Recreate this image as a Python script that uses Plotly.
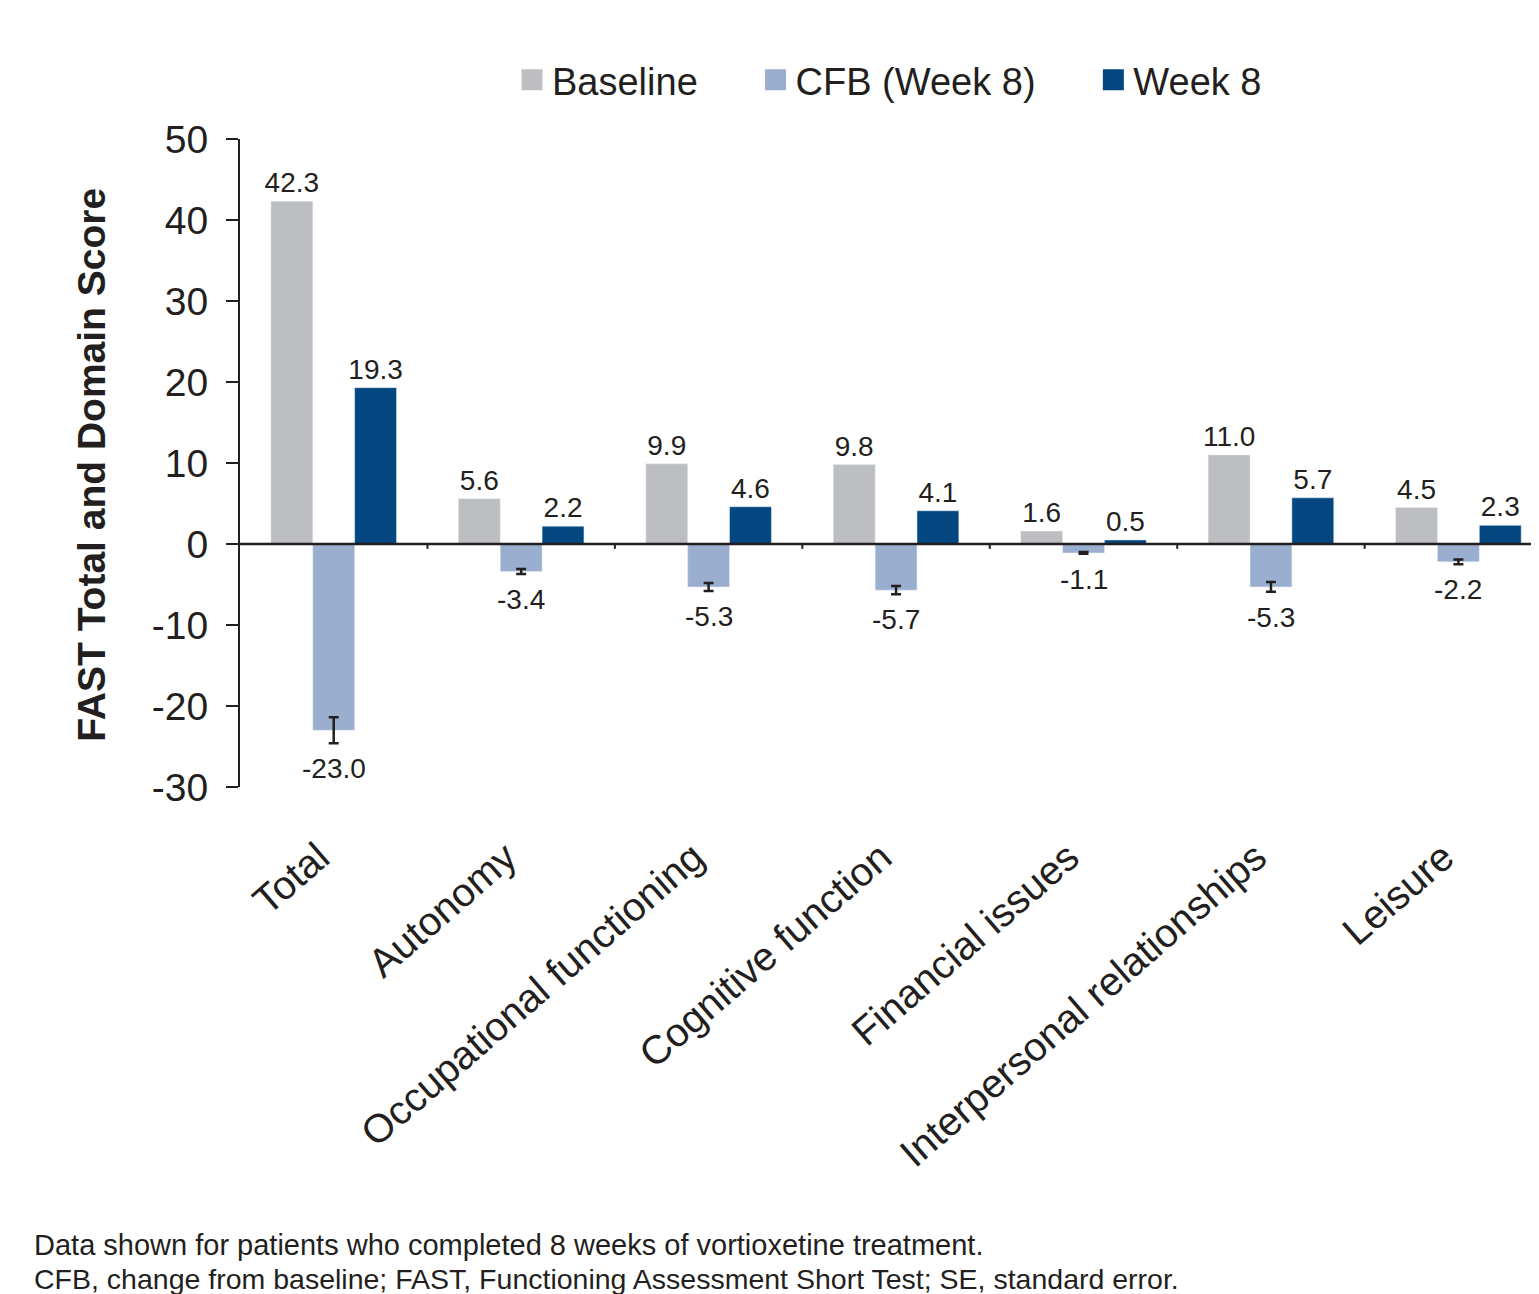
import plotly.graph_objects as go

categories = ["Total", "Autonomy", "Occupational functioning", "Cognitive function",
              "Financial issues", "Interpersonal relationships", "Leisure"]
baseline = [42.3, 5.6, 9.9, 9.8, 1.6, 11.0, 4.5]
cfb = [-23.0, -3.4, -5.3, -5.7, -1.1, -5.3, -2.2]
cfb_se = [1.6, 0.3, 0.5, 0.5, 0.1, 0.6, 0.3]
week8 = [19.3, 2.2, 4.6, 4.1, 0.5, 5.7, 2.3]
y_ticks = [-30, -20, -10, 0, 10, 20, 30, 40, 50]
legend_names = ["Baseline", "CFB (Week 8)", "Week 8"]

C_BASE = "#bcbec1"
C_CFB = "#9aafcf"
C_W8 = "#034680"
INK = "#231f20"
FONT = "Liberation Sans, Arial, sans-serif"
LBL = 28

x_idx = list(range(len(categories)))

fig = go.Figure()
fig.add_trace(go.Bar(x=x_idx, y=baseline, name="Baseline", marker_color=C_BASE,
                     text=[f"{v:.1f}" for v in baseline], textposition="outside",
                     constraintext="none",
                     textfont=dict(size=LBL, color=INK, family=FONT), cliponaxis=False,
                     showlegend=False))
fig.add_trace(go.Bar(x=x_idx, y=cfb, name="CFB (Week 8)", marker_color=C_CFB,
                     error_y=dict(type="data", array=cfb_se, visible=True, color=INK,
                                  thickness=2.5, width=5),
                     showlegend=False))
fig.add_trace(go.Bar(x=x_idx, y=week8, name="Week 8", marker_color=C_W8,
                     text=[f"{v:.1f}" for v in week8], textposition="outside",
                     constraintext="none",
                     textfont=dict(size=LBL, color=INK, family=FONT), cliponaxis=False,
                     showlegend=False))

# legend entries (padding to widen spacing between items)
pads = ["\u00a0" * 5, "\u00a0" * 5, ""]
for nm, col, pad in zip(legend_names, [C_BASE, C_CFB, C_W8], pads):
    fig.add_trace(go.Scatter(x=[None], y=[None], mode="markers", name=nm + pad,
                             marker=dict(symbol="square", size=16, color=col,
                                         line=dict(color=col, width=5))))

# CFB labels below error bars
for i, (v, se) in enumerate(zip(cfb, cfb_se)):
    fig.add_annotation(x=i, y=v - se, text=f"{v:.1f}", showarrow=False,
                       yanchor="top", yshift=-8,
                       font=dict(size=LBL, color=INK, family=FONT))

# zero line and category boundary ticks
fig.add_shape(type="line", xref="x", yref="y", x0=-0.5, x1=len(categories) - 0.57,
              y0=0, y1=0, line=dict(color=INK, width=2.5), layer="above")
for i in range(1, len(categories)):
    fig.add_shape(type="line", xref="x", yref="y", x0=i - 0.5, x1=i - 0.5,
                  y0=0, y1=-0.6, line=dict(color=INK, width=2), layer="above")

# y-axis title
fig.add_annotation(xref="paper", yref="paper", x=-0.114, y=0.497, text="<b>FAST Total and Domain Score</b>",
                   textangle=-90, showarrow=False, xanchor="center", yanchor="middle",
                   font=dict(size=39, color=INK, family=FONT))

# footnotes
fig.add_annotation(xref="paper", yref="paper", x=-0.160, y=-0.707, xanchor="left", yanchor="middle",
                   text="Data shown for patients who completed 8 weeks of vortioxetine treatment.",
                   showarrow=False, font=dict(size=29, color=INK, family=FONT))
fig.add_annotation(xref="paper", yref="paper", x=-0.160, y=-0.759, xanchor="left", yanchor="middle",
                   text="CFB, change from baseline; FAST, Functioning Assessment Short Test; SE, standard error.",
                   showarrow=False, font=dict(size=28.5, color=INK, family=FONT))

fig.update_layout(
    width=1531, height=1286,
    margin=dict(l=232, r=0, t=131, b=507, autoexpand=False),
    paper_bgcolor="white", plot_bgcolor="white",
    barmode="group", bargap=0.33, bargroupgap=0,
    font=dict(family=FONT, color=INK),
    legend=dict(orientation="h", x=0.5, xanchor="center", y=1.091, yanchor="middle",
                yref="paper", font=dict(size=38, color=INK, family=FONT),
                itemclick=False, bgcolor="rgba(0,0,0,0)"),
    xaxis=dict(range=[-0.5, len(categories) - 0.57], tickmode="array", tickvals=x_idx,
               ticktext=categories, tickangle=-41, showline=False, ticks="",
               showgrid=False, zeroline=False, ticklabelstandoff=38, ticklabelshift=-15,
               tickfont=dict(size=40, color=INK, family=FONT)),
    yaxis=dict(range=[-30, 50], tickmode="array", tickvals=y_ticks,
               ticktext=[str(t) for t in y_ticks], showline=True, linecolor=INK, linewidth=2,
               ticks="outside", ticklen=12, tickwidth=2, tickcolor=INK,
               showgrid=False, zeroline=False, ticklabelstandoff=10,
               tickfont=dict(size=39, color=INK, family=FONT)),
)

fig.write_html("out.html")
